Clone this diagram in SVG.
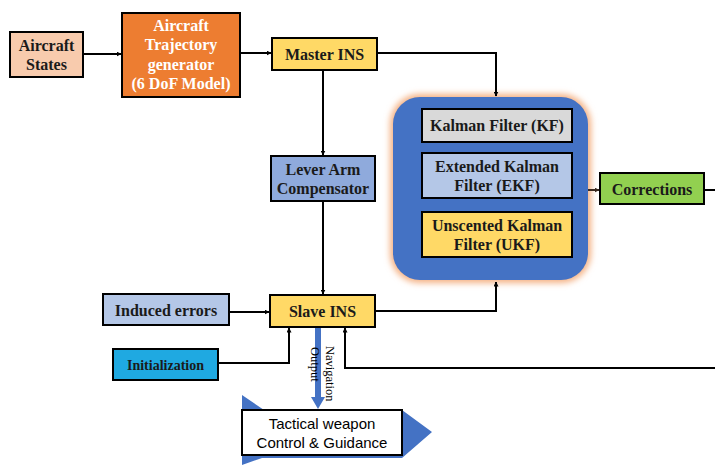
<svg xmlns="http://www.w3.org/2000/svg" width="715" height="465" viewBox="0 0 715 465">
<defs>
<marker id="ah" viewBox="0 0 10 10" refX="9" refY="5" markerWidth="5" markerHeight="5" orient="auto" markerUnits="userSpaceOnUse">
<path d="M0,0 L10,5 L0,10 z" fill="#000"/>
</marker>
<marker id="ahb" viewBox="0 0 10 10" refX="9" refY="5" markerWidth="5" markerHeight="5" orient="auto" markerUnits="userSpaceOnUse">
<path d="M0,0 L10,5 L0,10 z" fill="#3b2a20"/>
</marker>
<filter id="glow" x="-20%" y="-20%" width="140%" height="140%">
<feGaussianBlur stdDeviation="3"/>
</filter>
</defs>
<style>
.box{stroke:#000;stroke-width:2}
.t{font-family:"Liberation Serif","Times New Roman",serif;font-weight:bold;font-size:16px;text-anchor:middle;fill:#1a1a1a}
.tw{fill:#fff}
.c{fill:none;stroke:#000;stroke-width:2}
.s{font-family:"Liberation Sans",Arial,sans-serif;font-size:15px;text-anchor:middle;fill:#000}
.r{font-family:"Liberation Serif","Times New Roman",serif;font-size:12.5px;fill:#000}
</style>
<rect width="715" height="465" fill="#fff"/>

<g id="kalman-group">
<rect x="390" y="94" width="201" height="189" rx="30" fill="#f4b183" filter="url(#glow)"/>
<rect x="393" y="97" width="195" height="183" rx="27" fill="#4472c4"/>
</g>

<g id="connectors">
<line class="c" x1="84" y1="54" x2="121" y2="54" marker-end="url(#ah)"/>
<line class="c" x1="240" y1="53" x2="271" y2="53" marker-end="url(#ah)"/>
<polyline class="c" points="377,53 496,53 496,96" marker-end="url(#ah)"/>
<line class="c" x1="323" y1="70" x2="323" y2="155" marker-end="url(#ah)"/>
<line class="c" x1="323" y1="201" x2="323" y2="294" marker-end="url(#ah)"/>
<line class="c" x1="229" y1="312" x2="269" y2="312" marker-end="url(#ah)"/>
<polyline class="c" points="218,363 289,363 289,328" marker-end="url(#ah)"/>
<polyline class="c" points="376,311 496,311 496,282" marker-end="url(#ah)"/>
<polyline class="c" points="715,368 345,368 345,328" marker-end="url(#ah)"/>
<line x1="588" y1="190" x2="599" y2="190" stroke="#3b2a20" stroke-width="2" marker-end="url(#ahb)"/>
<line class="c" x1="704" y1="190" x2="715" y2="190"/>
<rect x="315" y="328" width="6" height="70" fill="#4472c4"/>
<path d="M311,397 L325,397 L318,409 z" fill="#4472c4"/>
<text class="r" transform="translate(311,347) rotate(90)">Output</text>
<text class="r" transform="translate(326,346) rotate(90)">Navigation</text>
</g>

<g id="aircraft-states">
<rect class="box" x="10" y="32" width="73" height="45" fill="#f8cbad"/>
<text class="t" x="46.5" y="51">Aircraft</text>
<text class="t" x="46.5" y="70">States</text>
</g>

<g id="trajectory-generator">
<rect class="box" x="122" y="13" width="118" height="84" fill="#ed7d31"/>
<text class="t tw" x="181" y="31">Aircraft</text>
<text class="t tw" x="181" y="50">Trajectory</text>
<text class="t tw" x="181" y="70">generator</text>
<text class="t tw" x="181" y="89">(6 DoF Model)</text>
</g>

<g id="master-ins">
<rect class="box" x="272" y="38" width="105" height="32" fill="#ffd966"/>
<text class="t" x="324.5" y="60">Master INS</text>
</g>

<g id="lever-arm">
<rect class="box" x="271" y="156" width="104" height="45" fill="#8faadc"/>
<text class="t" x="323" y="175">Lever Arm</text>
<text class="t" x="323" y="194">Compensator</text>
</g>

<g id="slave-ins">
<rect class="box" x="270" y="295" width="105" height="32" fill="#ffd966"/>
<text class="t" x="322.5" y="317">Slave INS</text>
</g>

<g id="induced-errors">
<rect class="box" x="103" y="294" width="126" height="31" fill="#b4c7e7"/>
<text class="t" x="166" y="316">Induced errors</text>
</g>

<g id="initialization">
<rect class="box" x="113" y="349" width="105" height="31" fill="#1fa9e1"/>
<text class="t" x="165.5" y="370" style="font-size:14px">Initialization</text>
</g>

<g id="kf">
<rect class="box" x="422" y="109" width="150" height="33" fill="#d9d9d9"/>
<text class="t" x="497" y="131">Kalman Filter (KF)</text>
</g>

<g id="ekf">
<rect class="box" x="422" y="153" width="150" height="45" fill="#b4c7e7"/>
<text class="t" x="497" y="172">Extended Kalman</text>
<text class="t" x="497" y="191">Filter (EKF)</text>
</g>

<g id="ukf">
<rect class="box" x="422" y="212" width="150" height="45" fill="#ffd966"/>
<text class="t" x="497" y="231">Unscented Kalman</text>
<text class="t" x="497" y="250">Filter (UKF)</text>
</g>

<g id="corrections">
<rect class="box" x="600" y="173" width="104" height="31" fill="#92d050"/>
<text class="t" x="652" y="195">Corrections</text>
</g>

<g id="tactical">
<polygon points="242,395 264,410 402,410 432,432 402,458 262,458 242,465" fill="#4472c4"/>
<rect class="box" x="242" y="410" width="160" height="45" fill="#fff"/>
<text class="s" x="322" y="429">Tactical weapon</text>
<text class="s" x="322" y="448">Control &amp; Guidance</text>
</g>
</svg>
